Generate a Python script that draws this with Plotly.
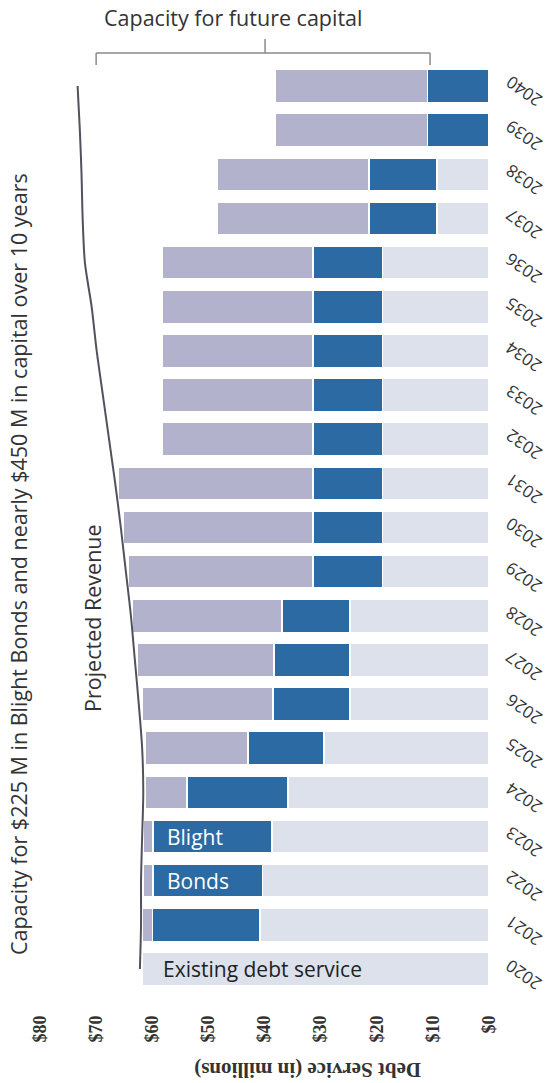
import plotly.graph_objects as go

# Fiscal years (category axis, bottom to top)
years = [str(y) for y in range(2020, 2041)]

# Annual debt service components, $ millions
existing_debt = [61.8, 40.8, 40.4, 38.7, 35.8, 29.4, 24.8, 24.8, 24.8,
                 19.0, 19.0, 19.0, 19.0, 19.0, 19.0, 19.0, 19.0,
                 9.3, 9.3, 0.0, 0.0]
blight_bonds = [0.0, 19.2, 19.5, 21.2, 18.0, 13.5, 13.7, 13.5, 12.1,
                12.4, 12.4, 12.4, 12.4, 12.4, 12.4, 12.4, 12.4,
                12.1, 12.1, 11.0, 11.0]
capital_capacity = [0.0, 1.8, 1.7, 1.7, 7.5, 18.4, 23.3, 24.4, 26.7,
                    32.9, 33.8, 34.7, 26.9, 26.9, 26.9, 26.9, 26.9,
                    27.1, 27.1, 27.1, 27.1]

# Projected revenue available for debt service, $ millions
projected_revenue = [62.2, 62.0, 62.0, 61.8, 61.6, 61.8, 62.4, 63.1, 63.8,
                     64.7, 65.6, 66.6, 67.7, 68.8, 69.9, 70.8, 72.0,
                     72.4, 72.6, 72.9, 73.3]

value_ticks = [0, 10, 20, 30, 40, 50, 60, 70, 80]
value_tick_labels = ["$0", "$10", "$20", "$30", "$40", "$50", "$60", "$70", "$80"]

C_EXISTING = "#dce1eb"
C_BLIGHT = "#2b6aa2"
C_CAPACITY = "#b3b2cc"
C_LINE = "#52525f"
C_TEXT = "#333333"
SANS = "Open Sans"

fig = go.Figure()

for name, vals, col in [("Existing debt service", existing_debt, C_EXISTING),
                        ("Blight Bonds", blight_bonds, C_BLIGHT),
                        ("Capacity", capital_capacity, C_CAPACITY)]:
    fig.add_trace(go.Bar(
        y=years, x=vals, orientation="h", name=name,
        marker=dict(color=col, line=dict(color="white", width=1.5)),
        hoverinfo="x+y",
    ))

fig.add_trace(go.Scatter(
    y=years, x=projected_revenue, mode="lines", name="Projected Revenue",
    line=dict(color=C_LINE, width=2, shape="spline", smoothing=0.8),
))

fig.update_layout(
    width=550, height=1083,
    margin=dict(l=40, r=61, t=64, b=92),
    paper_bgcolor="white", plot_bgcolor="white",
    barmode="stack", bargap=0.25,
    showlegend=False,
    font=dict(family=SANS, color=C_TEXT),
)

fig.update_xaxes(
    range=[80, 0], tickvals=value_ticks, ticktext=value_tick_labels,
    tickangle=-90, showgrid=False, zeroline=False, showline=False,
    tickfont=dict(family="Liberation Serif", size=18, color=C_TEXT, weight="bold"),
    ticks="", ticklabelstandoff=20,
)
# Year labels are drawn as tilted annotations beside each bar
fig.update_yaxes(
    type="category", categoryorder="array", categoryarray=years,
    range=[-0.5, 20.5], side="right", showticklabels=False,
    showgrid=False, zeroline=False, showline=False, ticks="",
)

# Brace spanning the unused capacity above the bars
brace_y, brace_drop, brace_rise = 1.0119, 0.9989, 1.027
brace_left, brace_right, brace_mid = 70.0, 10.5, 39.9
for x0, y0, x1, y1 in [(brace_left, brace_y, brace_right, brace_y),
                       (brace_left, brace_y, brace_left, brace_drop),
                       (brace_right, brace_y, brace_right, brace_drop),
                       (brace_mid, brace_y, brace_mid, brace_rise)]:
    fig.add_shape(type="line", xref="x", yref="paper", x0=x0, y0=y0, x1=x1, y1=y1,
                  line=dict(color="#8a8a8a", width=1.5))

annotations = [
    dict(text="Capacity for future capital", xref="paper", yref="paper",
         x=0.43, y=1.0507, xanchor="center", yanchor="middle", showarrow=False,
         font=dict(family=SANS, size=21.5, color=C_TEXT)),
    dict(text="Capacity for $225 M in Blight Bonds and nearly $450 M in capital over 10 years",
         xref="paper", yref="paper", x=-0.049, y=0.4606, textangle=-90,
         xanchor="center", yanchor="middle", showarrow=False,
         font=dict(family=SANS, size=21.5, color=C_TEXT)),
    dict(text="Projected Revenue", xref="paper", yref="paper", x=0.118, y=0.4024,
         textangle=-90, xanchor="center", yanchor="middle", showarrow=False,
         font=dict(family=SANS, size=21.5, color=C_TEXT)),
    dict(text="Existing debt service", xref="paper", yref="y", x=0.2695,
         y=years.index("2020"), xanchor="left", yanchor="middle", showarrow=False,
         font=dict(family=SANS, size=21, color="#222222")),
    dict(text="Blight", xref="paper", yref="y", x=0.278, y=years.index("2023"),
         xanchor="left", yanchor="middle", showarrow=False,
         font=dict(family=SANS, size=21, color="white")),
    dict(text="Bonds", xref="paper", yref="y", x=0.278, y=years.index("2022"),
         xanchor="left", yanchor="middle", showarrow=False,
         font=dict(family=SANS, size=21, color="white")),
    dict(text="Debt Service (in millions)", xref="paper", yref="paper",
         x=0.597, y=-0.085, textangle=180, xanchor="center", yanchor="middle",
         showarrow=False,
         font=dict(family="Liberation Serif", size=21, color=C_TEXT, weight="bold")),
]
for i, yr in enumerate(years):
    annotations.append(dict(
        text=yr, xref="paper", yref="y", x=1.078, y=i, yshift=-6,
        textangle=-145, xanchor="center", yanchor="middle", showarrow=False,
        font=dict(family=SANS, size=17, color=C_TEXT)))
fig.update_layout(annotations=annotations)

fig.write_html("out.html")
